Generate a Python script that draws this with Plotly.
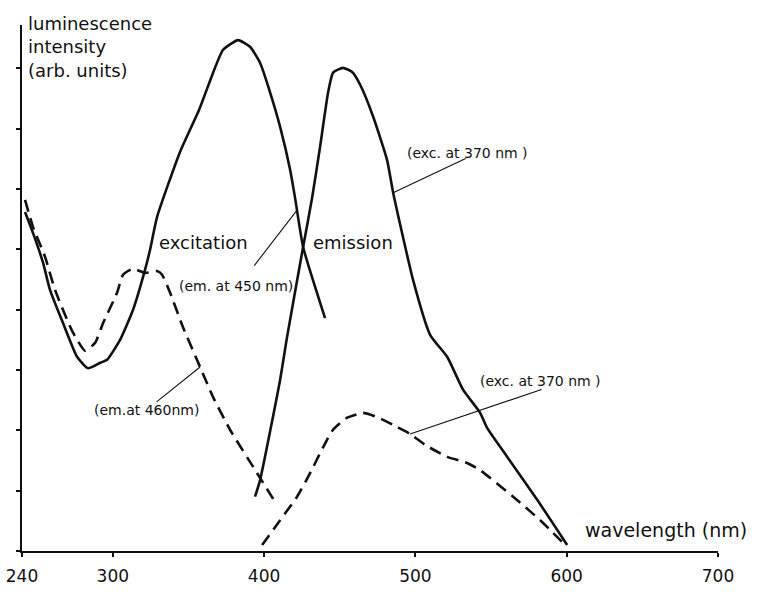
import numpy as np
import plotly.graph_objects as go

# ---- data (wavelength in nm, intensity in arb. units) ----
exc450_nm = [242.0, 247.3, 253.9, 258.5, 267.1, 276.4, 283.6, 291.6, 296.2, 304.8, 313.4,
             321.3, 324.6, 329.3, 344.5, 357.0, 366.3, 372.9, 382.8, 390.7, 397.4, 404.0,
             410.6, 417.2, 420.5, 425.8, 440.3]
exc450_int = [5.62, 5.27, 4.78, 4.33, 3.78, 3.22, 3.03, 3.12, 3.17, 3.50, 4.00,
              4.66, 4.99, 5.54, 6.62, 7.31, 7.93, 8.31, 8.47, 8.36, 8.09, 7.60,
              7.03, 6.32, 5.85, 5.04, 3.86]

exc460_nm = [242.0, 247.3, 255.2, 261.8, 273.1, 281.7, 288.3, 293.6, 302.8, 306.8, 313.4,
             321.3, 329.3, 332.6, 337.9, 346.4, 357.7, 366.3, 377.5, 395.4, 408.6]
exc460_int = [5.82, 5.37, 4.88, 4.33, 3.65, 3.32, 3.45, 3.78, 4.28, 4.58, 4.68,
              4.61, 4.64, 4.58, 4.28, 3.71, 3.05, 2.55, 2.01, 1.29, 0.76]

em_solid_nm = [394.0, 397.4, 410.6, 415.2, 425.8, 431.7, 437.0, 442.3, 445.6, 452.2, 458.2,
               463.5, 472.1, 481.3, 485.3, 498.5, 509.8, 521.0, 531.6, 542.8, 547.4, 560.7,
               580.5, 600.3]
em_solid_int = [0.90, 1.18, 2.84, 3.55, 5.04, 5.85, 6.70, 7.60, 7.93, 8.01, 7.94,
                7.73, 7.20, 6.48, 5.94, 4.49, 3.58, 3.22, 2.67, 2.29, 2.04, 1.56,
                0.85, 0.10]

em_dash_nm = [398.7, 410.6, 421.8, 430.4, 439.0, 445.6, 454.9, 465.5, 474.7, 485.3, 496.5,
              506.4, 521.0, 534.2, 542.8, 564.6, 582.5, 599.0]
em_dash_int = [0.10, 0.51, 0.90, 1.29, 1.72, 2.01, 2.21, 2.29, 2.22, 2.09, 1.94,
               1.76, 1.56, 1.46, 1.34, 0.90, 0.51, 0.10]

x_ticks = [240, 300, 400, 500, 600, 700]
x_tick_labels = ["240", "300", "400", "500", "600", "700"]
y_ticks = list(range(0, 9))

# curve labels
curve_labels = ["excitation", "emission"]
curve_label_nm = [329.3, 431.1]
curve_label_int = [5.12, 5.11]

# condition notes and the wavelength on the curve their leader points to
notes = ["(em. at 450 nm)", "(em.at 460nm)", "(exc. at 370 nm )", "(exc. at 370 nm )"]
note_nm = [342.5, 286.3, 493.2, 541.5]
note_int = [4.39, 2.34, 6.60, 2.82]
leader_nm = [421.8, 357.7, 485.3, 496.5]
leader_curve = ["exc450", "exc460", "em_solid", "em_dash"]
leader_tail_px = [(-44, 57), (-45, 36), (74, -35), (133, -45)]

curves = {
    "exc450": (exc450_nm, exc450_int),
    "exc460": (exc460_nm, exc460_int),
    "em_solid": (em_solid_nm, em_solid_int),
    "em_dash": (em_dash_nm, em_dash_int),
}

INK = "#111111"
FONT = "DejaVu Sans"

fig = go.Figure()
for key, dash in [("exc450", "solid"), ("exc460", "12px,7px"),
                  ("em_solid", "solid"), ("em_dash", "12px,7px")]:
    xs, ys = curves[key]
    fig.add_trace(go.Scatter(
        x=xs, y=ys, mode="lines",
        line=dict(color=INK, width=2.6, dash=dash, shape="spline", smoothing=0.5),
        showlegend=False, hoverinfo="skip", cliponaxis=False))

annotations = []
for t, x, y in zip(curve_labels, curve_label_nm, curve_label_int):
    annotations.append(dict(x=x, y=y, text=t, showarrow=False, xanchor="left",
                            yanchor="middle", font=dict(family=FONT, size=18, color=INK)))
for t, x, y in zip(notes, note_nm, note_int):
    annotations.append(dict(x=x, y=y, text=t, showarrow=False, xanchor="left",
                            yanchor="middle", font=dict(family=FONT, size=14, color=INK)))
for nm, key, (ax, ay) in zip(leader_nm, leader_curve, leader_tail_px):
    xs, ys = curves[key]
    yv = float(np.interp(nm, xs, ys))
    annotations.append(dict(x=nm, y=yv, text="", showarrow=True, arrowhead=0,
                            arrowwidth=1.1, arrowcolor=INK, ax=ax, ay=ay,
                            standoff=0, startstandoff=0))

annotations.append(dict(xref="paper", yref="paper", x=4 / 696, y=1.0, yshift=14,
                        text="luminescence<br>intensity<br>(arb. units)",
                        showarrow=False, xanchor="left", yanchor="top", align="left",
                        font=dict(family=FONT, size=18, color=INK)))
annotations.append(dict(xref="x", yref="y", x=611, y=0.35, text="wavelength (nm)",
                        showarrow=False, xanchor="left", yanchor="middle",
                        font=dict(family=FONT, size=19, color=INK)))

fig.update_layout(
    width=760, height=592,
    margin=dict(l=22, r=42, t=25, b=41, autoexpand=False),
    paper_bgcolor="white", plot_bgcolor="white",
    annotations=annotations,
    xaxis=dict(range=[240, 700], tickvals=x_ticks, ticktext=x_tick_labels,
               automargin=False,
               showgrid=False, zeroline=False, showline=True, linecolor=INK, linewidth=2,
               ticks="outside", ticklen=4, tickwidth=1.5, tickcolor=INK,
               ticklabelstandoff=5,
               tickfont=dict(family=FONT, size=17, color=INK)),
    yaxis=dict(range=[0, 8.72], tickvals=y_ticks, showticklabels=False,
               automargin=False,
               showgrid=False, zeroline=False, showline=True, linecolor=INK, linewidth=2,
               ticks="outside", ticklen=4, tickwidth=1.5, tickcolor=INK),
)

fig.write_html(
    "out.html",
    config={"displayModeBar": False},
    post_script="document.body.style.margin='0';document.body.style.overflow='hidden';",
)
